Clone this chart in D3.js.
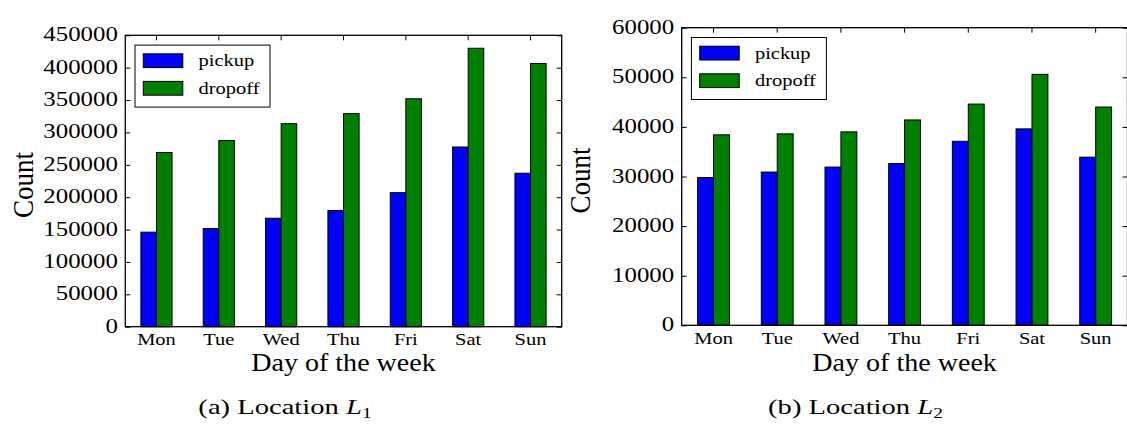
<!DOCTYPE html>
<html>
<head>
<meta charset="utf-8">
<script src="https://cdn.jsdelivr.net/npm/d3@7"></script>
<style>
  html, body { margin: 0; padding: 0; background: #fff; }
  svg { display: block; }
  text { font-family: "Liberation Serif", "Times New Roman", serif; fill: #000; }
</style>
</head>
<body>
<svg id="chart" width="1127" height="426"></svg>
<script>
const days = ["Mon", "Tue", "Wed", "Thu", "Fri", "Sat", "Sun"];
const seriesNames = ["pickup", "dropoff"];
const seriesColors = ["#0000ff", "#008000"];

const l1Pickup  = [146000, 151500, 167500, 179500, 207000, 277500, 237000];
const l1Dropoff = [269000, 287500, 313500, 329000, 352000, 430000, 406500];
const l1Ticks   = [0, 50000, 100000, 150000, 200000, 250000, 300000, 350000, 400000, 450000];

const l2Pickup  = [29800, 30900, 31900, 32600, 37100, 39600, 33900];
const l2Dropoff = [38400, 38600, 39000, 41400, 44600, 50600, 44000];
const l2Ticks   = [0, 10000, 20000, 30000, 40000, 50000, 60000];

const svg = d3.select("#chart");
const FONT = "'Liberation Serif', 'Times New Roman', serif";

function drawPanel(opts) {
  const { x0, x1, yTop, yBot, yMax, ticks, pickup, dropoff, caption, sub, capX } = opts;
  const g = svg.append("g").attr("font-family", FONT);
  const x = d3.scaleBand().domain(days).range([x0, x1]).paddingInner(0).paddingOuter(0);
  const y = d3.scaleLinear().domain([0, yMax]).range([yBot, yTop]);
  const bw = x.bandwidth() * 0.25;

  const data = days.map((d, i) => ({ day: d, vals: [pickup[i], dropoff[i]] }));

  // bars
  data.forEach(d => {
    d.vals.forEach((v, k) => {
      g.append("rect")
        .attr("x", x(d.day) + x.bandwidth() / 2 - bw + k * bw)
        .attr("y", y(v))
        .attr("width", bw)
        .attr("height", y(0) - y(v))
        .attr("fill", seriesColors[k])
        .attr("stroke", "#000")
        .attr("stroke-width", 1);
    });
  });

  // axes with inward ticks
  const tickLen = 5;
  const sx = 1.2;
  const left = g.append("g").attr("transform", `translate(${x0},0)`)
    .call(d3.axisLeft(y).tickValues(ticks).tickSize(-tickLen).tickFormat(d3.format("d")))
    .attr("font-family", FONT).attr("font-size", null);
  left.select(".domain").remove();
  left.selectAll("line").attr("stroke", "#000");
  left.selectAll("text")
    .attr("x", -7.5 / sx).attr("dy", null).attr("y", 5.5)
    .attr("transform", `scale(${sx},1)`)
    .attr("font-size", 20.7);

  const right = g.append("g").attr("transform", `translate(${x1},0)`)
    .call(d3.axisRight(y).tickValues(ticks).tickSize(-tickLen).tickFormat(""));
  right.select(".domain").remove();
  right.selectAll("line").attr("stroke", "#000");

  const top = g.append("g").attr("transform", `translate(0,${yTop})`)
    .call(d3.axisTop(x).tickSize(-tickLen).tickFormat(""));
  top.select(".domain").remove();
  top.selectAll("line").attr("stroke", "#000");

  const bottom = g.append("g").attr("transform", `translate(0,${yBot})`)
    .call(d3.axisBottom(x).tickSize(-tickLen))
    .attr("font-family", FONT).attr("font-size", null);
  bottom.select(".domain").remove();
  bottom.selectAll("line").attr("stroke", "#000");
  bottom.selectAll("text")
    .attr("y", 18.5).attr("dy", null)
    .attr("transform", "scale(1.17,1)")
    .attr("x", 0)
    .attr("font-size", 17.5);

  // frame
  g.append("rect")
    .attr("x", x0).attr("y", yTop)
    .attr("width", x1 - x0).attr("height", yBot - yTop)
    .attr("fill", "none").attr("stroke", "#000").attr("stroke-width", 1.3);

  // legend
  const lx = x0 + 9.7, ly = yTop + 9.8;
  const leg = g.append("g").attr("transform", `translate(${lx},${ly})`);
  leg.append("rect").attr("x", 0).attr("y", 0).attr("width", 135).attr("height", 62)
    .attr("fill", "#fff").attr("stroke", "#000").attr("stroke-width", 1);
  seriesNames.forEach((name, k) => {
    const py = 8.7 + k * 27.6;
    leg.append("rect").attr("x", 8.3).attr("y", py).attr("width", 39.5).attr("height", 13.8)
      .attr("fill", seriesColors[k]).attr("stroke", "#000").attr("stroke-width", 1);
    leg.append("text")
      .attr("transform", `translate(63.5,${py + 12.5}) scale(1.17,1)`)
      .attr("font-size", 17.5)
      .text(name);
  });

  // axis labels
  g.append("text")
    .attr("transform", `translate(${(x0 + x1) / 2},371) scale(1.1,1)`)
    .attr("text-anchor", "middle")
    .attr("font-size", 25.5)
    .text("Day of the week");
  g.append("text")
    .attr("transform", `translate(${x0 - 92},${(yTop + yBot) / 2 + 4}) scale(1.12,1) rotate(-90)`)
    .attr("text-anchor", "middle")
    .attr("font-size", 27)
    .text("Count");

  // caption
  const cap = g.append("text")
    .attr("transform", `translate(${capX},414) scale(1.3,1)`)
    .attr("text-anchor", "middle")
    .attr("font-size", 22);
  cap.append("tspan").text(caption + " ");
  cap.append("tspan").attr("font-style", "italic").text("L");
  cap.append("tspan").attr("font-size", 15).attr("dy", 4).text(sub);
}

drawPanel({ x0: 125.3, x1: 561.7, yTop: 35.3, yBot: 326.7, yMax: 450000, ticks: l1Ticks,
  pickup: l1Pickup, dropoff: l1Dropoff, caption: "(a) Location", sub: "1", capX: 285 });
drawPanel({ x0: 681.7, x1: 1127.5, yTop: 27.7, yBot: 325.3, yMax: 60000, ticks: l2Ticks,
  pickup: l2Pickup, dropoff: l2Dropoff, caption: "(b) Location", sub: "2", capX: 855.5 });
</script>
</body>
</html>
